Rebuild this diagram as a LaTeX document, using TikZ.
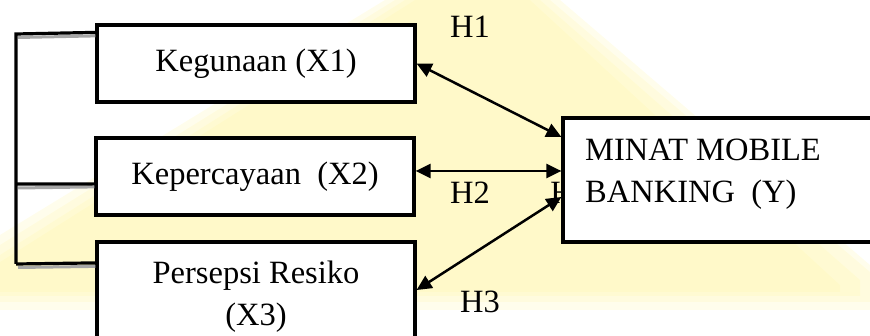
\documentclass[tikz,border=0pt]{standalone}
\usepackage{fontspec}
\setmainfont{Liberation Serif}
\usetikzlibrary{arrows.meta}
\definecolor{wmyellow}{RGB}{255,246,170}
\tikzset{
  varbox/.style={draw=black, line width=3.2pt, fill=white, rectangle, inner sep=0pt,
    font=\fontsize{32.5}{42}\selectfont, align=center},
  link/.style={line width=2.5pt, {Triangle[length=15pt,width=14pt]}-{Triangle[length=15pt,width=14pt]}},
  bracket/.style={line width=3.2pt, black},
  shade/.style={line width=3pt, gray!70},
  hlabel/.style={font=\fontsize{32.5}{42}\selectfont, inner sep=0pt},
  glow/.style={fill=wmyellow, opacity=0.22}
}
\begin{document}
\begin{tikzpicture}[x=1pt,y=-1pt]
\useasboundingbox (0,0) rectangle (870,336);
\clip (0,0) rectangle (870,336);
% faint watermark glow (layered for a soft edge)
\fill[glow] (385,0) -- (560,0) -- (870,265) -- (870,310) -- (0,310) -- (0,235) -- cycle;
\fill[glow] (395,0) -- (550,0) -- (870,272) -- (870,302) -- (0,302) -- (0,245) -- cycle;
\fill[glow] (405,0) -- (540,0) -- (860,280) -- (860,296) -- (0,296) -- (0,255) -- cycle;
\fill[glow] (415,0) -- (530,0) -- (840,285) -- (840,292) -- (0,292) -- (0,262) -- cycle;
% partially hidden label
\node[hlabel] (hpart) at (562,193) {H};
% boxes
\node[varbox, minimum width=318pt, minimum height=77pt] (x1) at (256,63.5) {\raisebox{7pt}{Kegunaan (X1)}};
\node[varbox, minimum width=318pt, minimum height=77pt] (x2) at (255,176.5) {\raisebox{6pt}{Kepercayaan\ \ (X2)}};
\node[varbox, minimum width=318pt, minimum height=110pt] (x3) at (256,297) {Persepsi Resiko\\(X3)};
\node[varbox, minimum width=320pt, minimum height=124pt] (y) at (723,180) {};
\node[hlabel, anchor=west, align=left, font=\fontsize{32.5}{42}\selectfont] (ytxt) at (585,174) {MINAT MOBILE\\BANKING\ \ (Y)};
% bracket on the left
\coordinate (c1) at (16,34);
\coordinate (c2) at (16,184);
\coordinate (c3) at (16,264);
\draw[shade] (18,37.5) -- ([yshift=-12.5pt]x1.north west);
\draw[shade] (18,188) -- ([yshift=-50.5pt]x2.north west);
\draw[shade] (18,267.5) -- ([yshift=-26pt]x3.north west);
\draw[bracket] ([yshift=-9pt]x1.north west) -- (c1) -- (c3);
\draw[bracket] (c2) -- ([yshift=-47.5pt]x2.north west);
\draw[bracket] (c3) -- ([yshift=-22.5pt]x3.north west);
% arrows
\draw[link] (x1.east) -- ([yshift=43pt]y.west);
\draw[link] ([yshift=5.5pt]x2.east) -- ([yshift=9pt]y.west);
\draw[link] ([yshift=-17pt]y.west) -- ([yshift=7pt]x3.east);
% hypothesis labels
\node[hlabel] (h1) at (470,27) {H1};
\node[hlabel] (h2) at (470,193) {H2};
\node[hlabel] (h3) at (480,302) {H3};
\end{tikzpicture}
\end{document}
